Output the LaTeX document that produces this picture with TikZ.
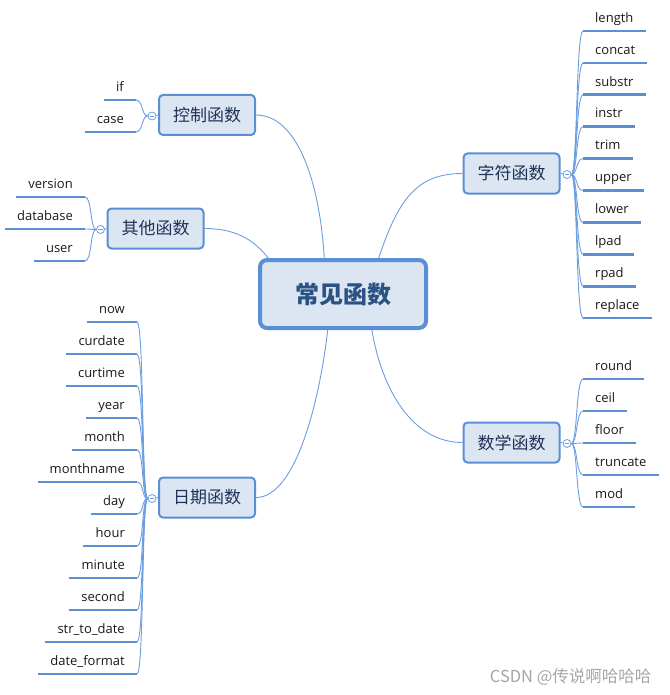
\documentclass[tikz,border=0pt]{standalone}
\usepackage{fontspec}
\setmainfont{Open Sans}
\newfontfamily\cjk{Noto Sans CJK SC}
\usetikzlibrary{calc}
\definecolor{mapblue}{HTML}{5B8FD5}
\definecolor{mapfill}{HTML}{DCE6F2}
\definecolor{maplink}{HTML}{6C9DE0}
\definecolor{maptext}{HTML}{1F3158}
\definecolor{roottext}{HTML}{2B5283}
\begin{document}
\begin{tikzpicture}[x=1pt, y=-1pt,
        root/.style={draw=mapblue, line width=4pt, fill=mapfill, rounded corners=7pt,
            minimum width=166pt, minimum height=68pt,
            font=\cjk\bfseries\fontsize{24}{28}\selectfont, text=roottext},
        branch/.style={draw=mapblue, line width=2pt, fill=mapfill, rounded corners=4pt,
            minimum width=96pt, minimum height=40pt,
            font=\cjk\fontsize{17}{20}\selectfont, text=maptext},
        fold/.style={circle, draw=maplink, fill=white, line width=0.8pt, minimum size=8pt, inner sep=0pt,
            path picture={\draw[maplink, line width=0.8pt]
                ([xshift=1.8pt]path picture bounding box.west) -- ([xshift=-1.8pt]path picture bounding box.east);}},
        link/.style={draw=maplink, line width=0.9pt},
        uline/.style={draw=mapblue, line width=2.6pt},
        leaf/.style={font=\fontsize{13}{15}\selectfont, text=black!90, inner xsep=12pt, inner ysep=0pt,
            text height=9pt, text depth=8.5pt},
        leafL/.style={leaf, anchor=south east},
        leafR/.style={leaf, anchor=south west}]
        \useasboundingbox (0,0) rectangle (669,695);

        % Nodo centrale e rami
        \node[root] (root) at (343,294) {常见函数};
        \node[branch] (kz) at (207,115) {控制函数};
        \node[branch] (qt) at (155.5,228.5) {其他函数};
        \node[branch] (rq) at (207,497.5) {日期函数};
        \node[branch] (zf) at (511.5,173.5) {字符函数};
        \node[branch] (sx) at (511.5,442.5) {数学函数};

        % Collegamenti centro - rami
        \draw[link] (kz.east) .. controls +(40,0) and +(-5,-80) .. ($(root.north west)!0.39!(root.north east)$);
        \draw[link] (qt.east) .. controls +(35,0) and +(-12,-15) .. ($(root.north west)!0.06!(root.north east)$);
        \draw[link] (zf.west) .. controls +(-45,0) and +(20,-60) .. ($(root.north west)!0.71!(root.north east)$);
        \draw[link] (rq.east) .. controls +(40,0) and +(-8,70) .. ($(root.south west)!0.41!(root.south east)$);
        \draw[link] (sx.west) .. controls +(-50,0) and +(10,60) .. ($(root.south west)!0.67!(root.south east)$);

        % Cerchi di chiusura
        \node[fold] (kz-c) at (152,116) {};
        \node[fold] (qt-c) at (100.5,229.5) {};
        \node[fold] (rq-c) at (152,498.5) {};
        \node[fold] (zf-c) at (567,174.5) {};
        \node[fold] (sx-c) at (567,443.5) {};
        \draw[link] (kz-c) -- (kz.west);
        \draw[link] (qt-c) -- (qt.west);
        \draw[link] (rq-c) -- (rq.west);
        \draw[link] (zf-c) -- (zf.east);
        \draw[link] (sx-c) -- (sx.east);

        % Foglie: controllo
        \foreach \w [count=\i] in {if,case} {
            \node[leafL] (kz-\i) at (136, {100+32*(\i-1)}) {\w};
            \draw[uline] (kz-\i.south west) -- (kz-\i.south east);
            \draw[link] (kz-c.west) .. controls +(-6,0) and +(7,0) .. (kz-\i.south east);
        }

        % Foglie: altre
        \foreach \w [count=\i] in {version,database,user} {
            \node[leafL] (qt-\i) at (85, {197+32*(\i-1)}) {\w};
            \draw[uline] (qt-\i.south west) -- (qt-\i.south east);
            \draw[link] (qt-c.west) .. controls +(-6,0) and +(7,0) .. (qt-\i.south east);
        }

        % Foglie: date
        \foreach \w [count=\i] in {now,curdate,curtime,year,month,monthname,day,hour,minute,second,str\_to\_date,date\_format} {
            \node[leafL] (rq-\i) at (137, {322+32*(\i-1)}) {\w};
            \draw[uline] (rq-\i.south west) -- (rq-\i.south east);
            \draw[link] (rq-c.west) .. controls +(-6,0) and +(7,0) .. (rq-\i.south east);
        }

        % Foglie: stringhe
        \foreach \w [count=\i] in {length,concat,substr,instr,trim,upper,lower,lpad,rpad,replace} {
            \node[leafR] (zf-\i) at (583, {31+31.9*(\i-1)}) {\w};
            \draw[uline] (zf-\i.south west) -- (zf-\i.south east);
            \draw[link] (zf-c.east) .. controls +(6,0) and +(-7,0) .. (zf-\i.south west);
        }

        % Foglie: matematica
        \foreach \w [count=\i] in {round,ceil,floor,truncate,mod} {
            \node[leafR] (sx-\i) at (583, {379+32*(\i-1)}) {\w};
            \draw[uline] (sx-\i.south west) -- (sx-\i.south east);
            \draw[link] (sx-c.east) .. controls +(6,0) and +(-7,0) .. (sx-\i.south west);
        }

        % Filigrana
        \node[font=\cjk\fontsize{16.5}{18}\selectfont, text=black!35, anchor=east] (mark) at (655,677) {CSDN @传说啊哈哈哈};
    \end{tikzpicture}
\end{document}
